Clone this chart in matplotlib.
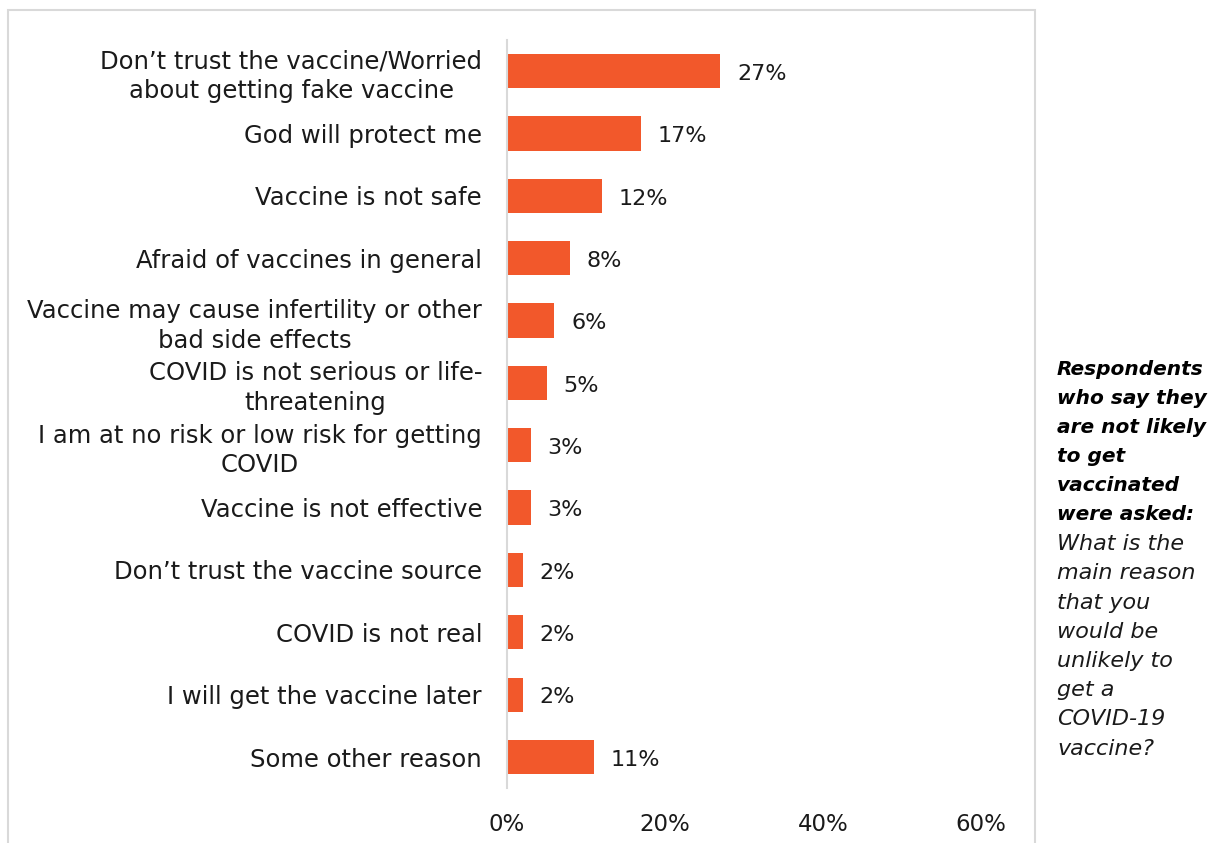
import matplotlib.pyplot as plt
from matplotlib.patches import Rectangle

reasons = [
    "Don\u2019t trust the vaccine/Worried\nabout getting fake vaccine",
    "God will protect me",
    "Vaccine is not safe",
    "Afraid of vaccines in general",
    "Vaccine may cause infertility or other\nbad side effects",
    "COVID is not serious or life-\nthreatening",
    "I am at no risk or low risk for getting\nCOVID",
    "Vaccine is not effective",
    "Don\u2019t trust the vaccine source",
    "COVID is not real",
    "I will get the vaccine later",
    "Some other reason",
]
shares = [27, 17, 12, 8, 6, 5, 3, 3, 2, 2, 2, 11]
xticks = [0, 20, 40, 60]

note_bold = ["Respondents", "who say they", "are not likely", "to get",
             "vaccinated", "were asked:"]
note_plain = ["What is the", "main reason", "that you", "would be",
              "unlikely to", "get a", "COVID-19", "vaccine?"]

BAR = "#F2582B"
TXT = "#1a1a1a"
plt.rcParams["font.family"] = ["DejaVu Sans"]

fig = plt.figure(figsize=(12.18, 8.43), dpi=100)
ax = fig.add_axes([0.4163, 0.065, 0.8054 - 0.4163, 0.9526 - 0.065])

ypos = list(range(len(reasons)))
ax.barh(ypos, shares, height=0.55, color=BAR)
for y, v in zip(ypos, shares):
    ax.annotate(f"{v}%", (v, y), xytext=(12, -2), textcoords="offset points",
                va="center", ha="left", fontsize=16, color=TXT)

ax.set_xlim(0, 60)
ax.set_ylim(len(reasons) - 0.5, -0.5)
ax.set_yticks(ypos)
ax.set_yticklabels(reasons, fontsize=17.5, color=TXT, linespacing=1.3,
                   multialignment="center")
ax.set_xticks(xticks)
ax.set_xticklabels([f"{t}%" for t in xticks], fontsize=16.5, color=TXT)
ax.tick_params(axis="y", length=0, pad=18)
ax.tick_params(axis="x", length=0, pad=18)
for s in ["top", "right", "bottom"]:
    ax.spines[s].set_visible(False)
ax.spines["left"].set_color("#d9d9d9")
ax.spines["left"].set_linewidth(1.5)

# light frame around the chart area
fig.patches.append(Rectangle((8 / 1218, -0.05), (1035 - 8) / 1218, 1.05 - 10 / 843,
                             transform=fig.transFigure, fill=False,
                             edgecolor="#d9d9d9", linewidth=1.5))

# side note, one line at a time with a fixed step
step = 29.2 / 843
y0 = 1 - 369 / 843
for i, line in enumerate(note_bold + note_plain):
    bold = i < len(note_bold)
    fig.text(1057 / 1218, y0 - i * step, line,
             fontsize=14.5 if bold else 16,
             fontweight="bold" if bold else "normal", fontstyle="italic",
             va="center", ha="left", color="#000000" if bold else TXT)

fig.savefig("out.png", dpi=100)
